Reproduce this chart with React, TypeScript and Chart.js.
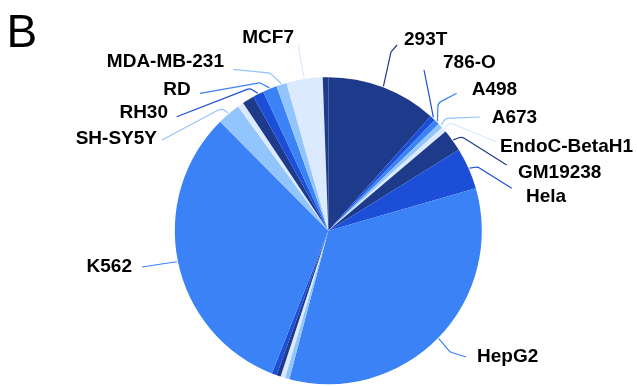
import React, { useEffect, useRef } from "react";
import { Chart, registerables } from "chart.js";

Chart.register(...registerables);

// Cell lines in drawing order (clockwise from 12 o'clock); "" = slice without a label
const cellLines: string[] = [
  "293T", "786-O", "A498", "A673", "EndoC-BetaH1", "GM19238", "Hela", "HepG2",
  "", "", "", "",
  "K562", "SH-SY5Y", "", "", "RH30", "RD", "MDA-MB-231", "MCF7", "",
];

// Share of samples (%)
const shares: number[] = [
  11.61, 0.58, 0.58, 0.53, 0.53, 2.33, 4.39, 33.53,
  0.47, 0.47, 0.44, 0.53,
  31.56, 2.44, 0.64, 1.25, 1.14, 1.5, 1.08, 3.81, 0.58,
];

const palette: string[] = ["#1e3a8a", "#1d4ed8", "#3b82f6", "#93c5fd", "#dbeafe"];

const panelLetter = "B";

// Label placement relative to pie centre (px at reference radius 153.5):
// [index, align, textDx, textDy, elbowDx, elbowDy, endDx, endDy]
type Placement = [number, CanvasTextAlign, number, number, number, number, number, number];
const placements: Placement[] = [
  [0, "left", 75.7, -190.7, 62.7, -178.7, 68.7, -185.7],
  [1, "left", 114.7, -168.2, 101.7, -130.7, 95.7, -160.7],
  [2, "left", 143.4, -141.2, 109.7, -127.7, 128.4, -137.4],
  [3, "left", 163.4, -112.7, 116.7, -112.2, 151.7, -113.7],
  [4, "left", 171.7, -83.7, 119.7, -108.7, 168.4, -89],
  [5, "left", 189.7, -57.7, 133.4, -94, 178.4, -65.7],
  [6, "left", 197.7, -34.2, 149.7, -63.7, 183.4, -42.4],
  [7, "left", 148.7, 126.3, 121.7, 121.3, 137.7, 126.3],
  [12, "right", -196.3, 36.3, -163.3, 32.8, -186.3, 36.3],
  [13, "right", -171.3, -91.7, -106.6, -122.4, -166.3, -90.7],
  [16, "right", -160.3, -117.7, -78.3, -142.4, -151.6, -114],
  [17, "right", -137.6, -141, -68.3, -148, -128.3, -137.4],
  [18, "right", -104.3, -169.2, -58.3, -157.7, -95, -161.4],
  [19, "right", -34.3, -193.2, -28.3, -174, -30, -185.7],
];

const REF_R = 153.5;

const labelPlugin = {
  id: "pieLabels",
  afterDraw(chart: any) {
    const ctx: CanvasRenderingContext2D = chart.ctx;
    const meta = chart.getDatasetMeta(0);
    const colors = chart.data.datasets[0].backgroundColor as string[];
    const labels = chart.data.labels as string[];
    ctx.save();
    // panel letter
    ctx.fillStyle = "#000";
    ctx.font = "46px 'Liberation Sans', Arial, sans-serif";
    ctx.textAlign = "left";
    ctx.textBaseline = "alphabetic";
    ctx.fillText(panelLetter, 6.5, 47);

    for (const p of placements) {
      const [i, align, tx, ty, ex, ey, lx, ly] = p;
      const arc = meta.data[i];
      if (!arc || !labels[i]) continue;
      const { x, y, startAngle, endAngle, outerRadius } = arc.getProps(
        ["x", "y", "startAngle", "endAngle", "outerRadius"],
        true
      );
      const k = outerRadius / REF_R;
      const mid = (startAngle + endAngle) / 2;
      const sx = x + Math.cos(mid) * (outerRadius + 1);
      const sy = y + Math.sin(mid) * (outerRadius + 1);
      const bx = x + ex * k;
      const by = y + ey * k;
      const fx = x + lx * k;
      const fy = y + ly * k;
      ctx.strokeStyle = colors[i];
      ctx.lineWidth = 1.2;
      ctx.beginPath();
      ctx.moveTo(sx, sy);
      ctx.arcTo(bx, by, fx, fy, 6);
      ctx.lineTo(fx, fy);
      ctx.stroke();

      ctx.fillStyle = "#000";
      ctx.font = "bold 19px 'Liberation Sans', Arial, sans-serif";
      ctx.textAlign = align;
      ctx.textBaseline = "middle";
      ctx.fillText(labels[i], x + tx * k, y + ty * k);
    }
    ctx.restore();
  },
};

export default function App() {
  const canvasRef = useRef<HTMLCanvasElement | null>(null);

  useEffect(() => {
    if (!canvasRef.current) return;
    const chart = new Chart(canvasRef.current, {
      type: "pie",
      data: {
        labels: cellLines,
        datasets: [
          {
            data: shares,
            backgroundColor: shares.map((_, i) => palette[i % palette.length]),
            borderWidth: 0,
          },
        ],
      },
      options: {
        animation: false,
        responsive: true,
        maintainAspectRatio: false,
        rotation: 0,
        layout: { padding: { left: 174.8, right: 155.2, top: 77.2, bottom: 1.8 } },
        plugins: {
          legend: { display: false },
          tooltip: { enabled: false },
          title: { display: false },
        },
      },
      plugins: [labelPlugin],
    });
    return () => chart.destroy();
  }, []);

  return (
    <div style={{ position: "fixed", left: 0, top: 0, width: 637, height: 386, background: "#fff" }}>
      <canvas ref={canvasRef} />
    </div>
  );
}
